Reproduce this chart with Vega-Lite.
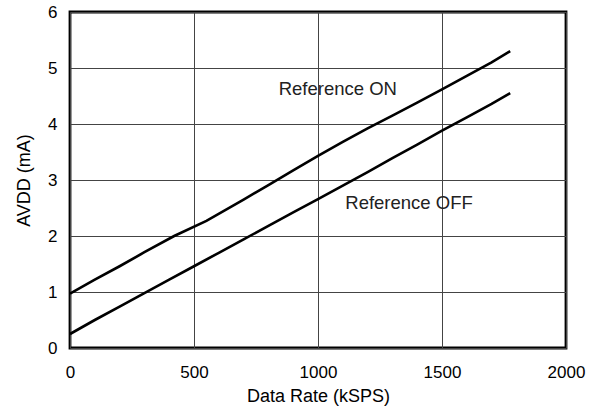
{
  "$schema": "https://vega.github.io/schema/vega-lite/v6.json",
  "width": 496,
  "height": 336,
  "autosize": {"type": "none"},
  "padding": {"left": 70, "top": 12, "right": 23, "bottom": 64},
  "config": {
    "font": "Liberation Sans",
    "view": {"stroke": "#000000", "strokeWidth": 2.8},
    "axis": {
      "domain": false,
      "ticks": false,
      "grid": true,
      "gridColor": "#444444",
      "gridWidth": 1,
      "labelFont": "Liberation Sans",
      "labelFontSize": 17,
      "labelColor": "#000000",
      "labelFlush": false,
      "titleFont": "Liberation Sans",
      "titleFontSize": 18,
      "titleFontWeight": "normal",
      "titleColor": "#000000",
      "format": "d"
    }
  },
  "datasets": {
    "curves": [
      {"rate": 0, "ma": 0.97, "series": "Reference ON"},
      {"rate": 100, "ma": 1.22, "series": "Reference ON"},
      {"rate": 200, "ma": 1.46, "series": "Reference ON"},
      {"rate": 300, "ma": 1.71, "series": "Reference ON"},
      {"rate": 420, "ma": 2.0, "series": "Reference ON"},
      {"rate": 550, "ma": 2.27, "series": "Reference ON"},
      {"rate": 700, "ma": 2.65, "series": "Reference ON"},
      {"rate": 800, "ma": 2.91, "series": "Reference ON"},
      {"rate": 900, "ma": 3.17, "series": "Reference ON"},
      {"rate": 1000, "ma": 3.43, "series": "Reference ON"},
      {"rate": 1100, "ma": 3.68, "series": "Reference ON"},
      {"rate": 1200, "ma": 3.92, "series": "Reference ON"},
      {"rate": 1300, "ma": 4.15, "series": "Reference ON"},
      {"rate": 1400, "ma": 4.38, "series": "Reference ON"},
      {"rate": 1500, "ma": 4.62, "series": "Reference ON"},
      {"rate": 1600, "ma": 4.86, "series": "Reference ON"},
      {"rate": 1700, "ma": 5.1, "series": "Reference ON"},
      {"rate": 1775, "ma": 5.3, "series": "Reference ON"},
      {"rate": 0, "ma": 0.25, "series": "Reference OFF"},
      {"rate": 100, "ma": 0.5, "series": "Reference OFF"},
      {"rate": 200, "ma": 0.74, "series": "Reference OFF"},
      {"rate": 300, "ma": 0.98, "series": "Reference OFF"},
      {"rate": 400, "ma": 1.22, "series": "Reference OFF"},
      {"rate": 500, "ma": 1.46, "series": "Reference OFF"},
      {"rate": 600, "ma": 1.7, "series": "Reference OFF"},
      {"rate": 700, "ma": 1.94, "series": "Reference OFF"},
      {"rate": 800, "ma": 2.18, "series": "Reference OFF"},
      {"rate": 900, "ma": 2.42, "series": "Reference OFF"},
      {"rate": 1000, "ma": 2.66, "series": "Reference OFF"},
      {"rate": 1100, "ma": 2.9, "series": "Reference OFF"},
      {"rate": 1200, "ma": 3.14, "series": "Reference OFF"},
      {"rate": 1300, "ma": 3.39, "series": "Reference OFF"},
      {"rate": 1400, "ma": 3.63, "series": "Reference OFF"},
      {"rate": 1500, "ma": 3.88, "series": "Reference OFF"},
      {"rate": 1600, "ma": 4.12, "series": "Reference OFF"},
      {"rate": 1700, "ma": 4.36, "series": "Reference OFF"},
      {"rate": 1775, "ma": 4.55, "series": "Reference OFF"}
    ],
    "labels": [
      {"rate": 1080, "ma": 4.63, "label": "Reference ON"},
      {"rate": 1367, "ma": 2.59, "label": "Reference OFF"}
    ]
  },
  "layer": [
    {
      "data": {"name": "curves"},
      "mark": {"type": "line", "color": "#000000", "strokeWidth": 2.6},
      "encoding": {
        "x": {
          "field": "rate",
          "type": "quantitative",
          "scale": {"domain": [0, 2000], "nice": false},
          "axis": {"values": [0, 500, 1000, 1500, 2000], "title": "Data Rate (kSPS)", "labelPadding": 16, "titlePadding": 7}
        },
        "y": {
          "field": "ma",
          "type": "quantitative",
          "scale": {"domain": [0, 6], "nice": false},
          "axis": {"values": [0, 1, 2, 3, 4, 5, 6], "title": "AVDD (mA)", "labelPadding": 13, "titlePadding": 14}
        },
        "detail": {"field": "series"}
      }
    },
    {
      "data": {"name": "labels"},
      "mark": {"type": "text", "font": "Liberation Sans", "fontSize": 18.5, "color": "#222222", "align": "center", "baseline": "middle"},
      "encoding": {
        "x": {"field": "rate", "type": "quantitative"},
        "y": {"field": "ma", "type": "quantitative"},
        "text": {"field": "label"}
      }
    }
  ]
}
